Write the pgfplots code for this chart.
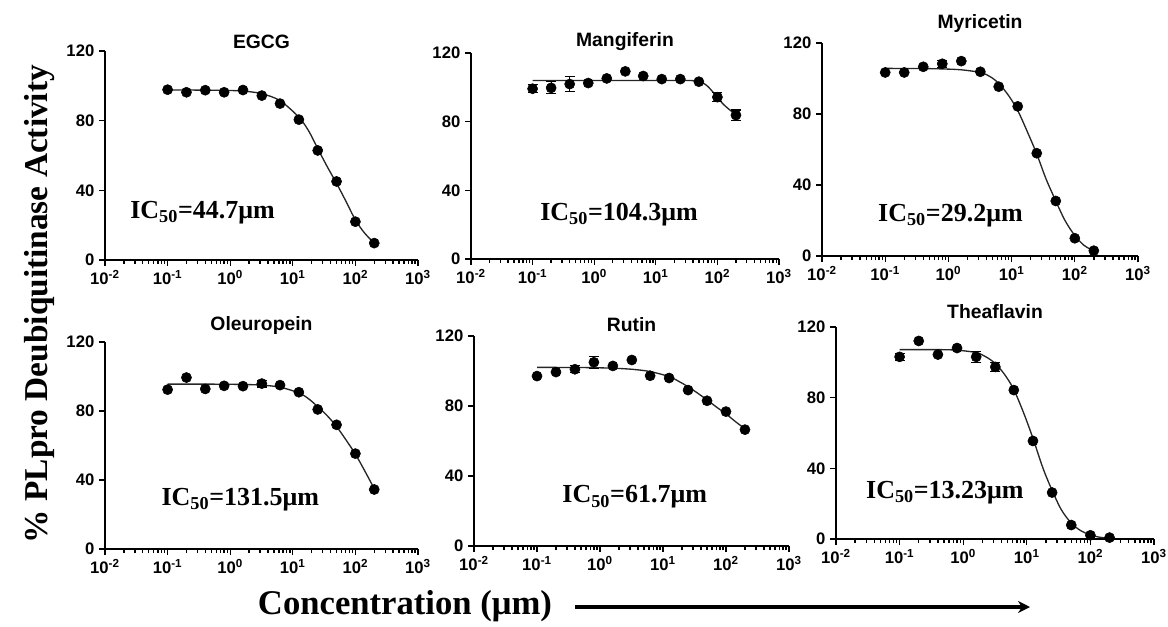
\documentclass[border=0pt]{standalone}
\usepackage{fontspec}
\setmainfont{Liberation Serif}
\newfontfamily\arial{Liberation Sans}
\usepackage{pgfplots}
\usepackage{pgfplotstable}
\pgfplotsset{compat=1.18}
\usetikzlibrary{arrows.meta}

% measured points (x in um, y in %)
\pgfplotstableread{
x y
0.1 97.8
0.2 96.3
0.4 97.5
0.8 96.3
1.6 97.6
3.2 94.4
6.25 89.8
12.5 80.6
25 62.9
50 45.1
100 22.0
200 9.7
}\egcg
\pgfplotstableread{
x y
0.1 97.6
0.2 97.6
0.4 97.5
0.8 97.4
1.6 97.0
3.2 95.5
6.25 91.5
12.5 82
18 74
25 64
35 54
50 44
70 34
100 23
140 15.5
200 9.7
}\egcgfit

\pgfplotstableread{
x y
0.8 102.5
1.6 105.2
3.2 109.3
6.25 106.6
12.5 104.8
25 104.8
50 103.3
}\mang
\pgfplotstableread{
x y e
0.1 99.2 2.4
0.2 99.7 3.5
0.4 101.9 4.3
100 94.3 2.5
200 83.8 3
}\mangerr
\pgfplotstableread{
x y
0.1 104
1 104
10 104
30 104
40 103.9
50 103.5
60 102.3
70 100.5
85 97.2
100 94
120 90.8
140 88.5
170 86
200 84
}\mangfit

\pgfplotstableread{
x y
0.1 103.4
0.2 103.4
0.4 106.6
1.6 109.8
3.2 103.8
6.25 95.4
12.5 84.3
25 57.9
50 31.0
100 10.0
200 3.0
}\myri
\pgfplotstableread{
x y e
0.8 108.3 2
}\myrierr
\pgfplotstableread{
x y
0.1 105.7
0.4 105.6
0.8 105.4
1.6 104.9
3.2 103.4
4.5 101.2
6.25 97.3
9 90.3
12.5 82
18 69.5
25 57.5
35 43.5
50 31
70 20
100 11.5
140 6
200 2.8
}\myrifit

\pgfplotstableread{
x y
0.1 92.4
0.2 99.4
0.4 92.8
0.8 94.6
1.6 94.4
6.25 95.0
12.5 90.9
25 80.9
50 72.0
100 55.3
200 34.5
}\oleu
\pgfplotstableread{
x y e
3.2 95.9 2
}\oleuerr
\pgfplotstableread{
x y
0.1 95.6
0.4 95.6
0.8 95.5
1.6 95.4
3.2 95
6.25 93.8
12.5 90.5
18 87
25 82.5
35 77.5
50 71
70 63.5
100 55
140 45.5
200 35
}\oleufit

\pgfplotstableread{
x y
0.1 97.1
0.2 99.4
1.6 102.9
3.2 106.3
6.25 97.3
12.5 96.0
25 89.1
50 83.0
100 76.8
200 66.5
}\rutin
\pgfplotstableread{
x y e
0.4 101.0 2
0.8 105.0 3.5
}\rutinerr
\pgfplotstableread{
x y
0.1 102.1
0.4 102
0.8 101.9
1.6 101.6
3.2 101
6.25 99.7
12.5 96.8
18 94
25 91
35 87.5
50 83.5
70 79.5
100 75.5
140 71.2
200 67
}\rutinfit

\pgfplotstableread{
x y
0.2 112.1
0.4 104.4
0.8 108.1
6.25 84.3
12.5 55.5
25 26.3
50 7.9
100 2.1
200 0.8
}\thea
\pgfplotstableread{
x y e
0.1 103.1 2
1.6 103.1 3
3.2 97.4 2.5
}\theaerr
\pgfplotstableread{
x y
0.1 107.2
0.4 107.2
0.8 106.9
1.6 105.5
2.3 103
3.2 99.3
4.5 93
6.25 84.6
9 71
12.5 57
18 40
25 27.5
35 16.5
50 9
70 4.8
100 2.3
140 1
200 0.4
}\theafit

\pgfplotsset{
  ivpanel/.style={
    scale only axis, clip=false,
    xmin=0.01, xmax=1000, ymin=0, ymax=120,
    axis lines*=left,
    axis line style={line width=1.5pt, black},
    tick align=outside,
    major tick length=4.5pt, minor tick length=3pt,
    tick style={line width=1pt, black},
    xtick={0.01,0.1,1,10,100,1000},
    xticklabels={10\textsuperscript{-2},10\textsuperscript{-1},10\textsuperscript{0},10\textsuperscript{1},10\textsuperscript{2},10\textsuperscript{3}},
    ytick={0,40,80,120}, yticklabels={0,40,80,120},
    yminorticks=false,
    tick label style={font=\arial\bfseries\fontsize{12.5}{13}\selectfont},
    title style={font=\arial\bfseries\fontsize{14.5}{15}\selectfont, at={(0.5,1)}, anchor=base, inner sep=0pt},
  },
  ivpts/.style={only marks, mark=*, mark size=3.8pt, black},
  ivfit/.style={smooth, no marks, line width=1pt, black!85},
}
\tikzset{ivic/.style={anchor=west, font=\bfseries\fontsize{19.5}{20}\selectfont, inner sep=0pt}}

\begin{document}
\begin{tikzpicture}
\path[use as bounding box] (0,0) rectangle (876pt,-469.5pt);

\begin{semilogxaxis}[ivpanel, at={(78.75pt,-195pt)}, width=234.75pt, height=156.75pt,
  title={EGCG}, title style={yshift=-3.75pt}]
\addplot[ivfit] table {\egcgfit};
\addplot[ivpts] table {\egcg};
\node[ivic] at (rel axis cs:0.08,0.225) {IC\textsubscript{50}=44.7μm};
\end{semilogxaxis}

\begin{semilogxaxis}[ivpanel, at={(353.25pt,-194.25pt)}, width=231pt, height=154.5pt,
  title={Mangiferin}, title style={yshift=-0.75pt}]
\addplot[ivfit] table {\mangfit};
\addplot[ivpts] table {\mang};
\addplot[ivpts, error bars/.cd, y dir=both, y explicit, error bar style={line width=0.9pt, black}, error mark options={rotate=90, mark size=3.8pt, line width=0.9pt, black}] table[y error=e] {\mangerr};
\node[ivic] at (rel axis cs:0.224,0.214) {IC\textsubscript{50}=104.3μm};
\end{semilogxaxis}

\begin{semilogxaxis}[ivpanel, at={(616.5pt,-192pt)}, width=237pt, height=159.75pt,
  title={Myricetin}, title style={yshift=5.25pt}]
\addplot[ivfit] table {\myrifit};
\addplot[ivpts] table {\myri};
\addplot[ivpts, error bars/.cd, y dir=both, y explicit, error bar style={line width=0.9pt, black}, error mark options={rotate=90, mark size=3.8pt, line width=0.9pt, black}] table[y error=e] {\myrierr};
\node[ivic] at (rel axis cs:0.177,0.19) {IC\textsubscript{50}=29.2μm};
\end{semilogxaxis}

\begin{semilogxaxis}[ivpanel, at={(78.75pt,-411.75pt)}, width=234.75pt, height=155.25pt,
  title={Oleuropein}, title style={yshift=3pt}]
\addplot[ivfit] table {\oleufit};
\addplot[ivpts] table {\oleu};
\addplot[ivpts, error bars/.cd, y dir=both, y explicit, error bar style={line width=0.9pt, black}, error mark options={rotate=90, mark size=3.8pt, line width=0.9pt, black}] table[y error=e] {\oleuerr};
\node[ivic] at (rel axis cs:0.18,0.24) {IC\textsubscript{50}=131.5μm};
\end{semilogxaxis}

\begin{semilogxaxis}[ivpanel, at={(355.5pt,-409.5pt)}, width=236.25pt, height=157.5pt,
  title={Rutin}, title style={yshift=-2.25pt}]
\addplot[ivfit] table {\rutinfit};
\addplot[ivpts] table {\rutin};
\addplot[ivpts, error bars/.cd, y dir=both, y explicit, error bar style={line width=0.9pt, black}, error mark options={rotate=90, mark size=3.8pt, line width=0.9pt, black}] table[y error=e] {\rutinerr};
\node[ivic] at (rel axis cs:0.28,0.233) {IC\textsubscript{50}=61.7μm};
\end{semilogxaxis}

\begin{semilogxaxis}[ivpanel, at={(627pt,-404.25pt)}, width=238.5pt, height=159pt,
  title={Theaflavin}, title style={yshift=0.75pt}]
\addplot[ivfit] table {\theafit};
\addplot[ivpts] table {\thea};
\addplot[ivpts, error bars/.cd, y dir=both, y explicit, error bar style={line width=0.9pt, black}, error mark options={rotate=90, mark size=3.8pt, line width=0.9pt, black}] table[y error=e] {\theaerr};
\node[ivic] at (rel axis cs:0.094,0.22) {IC\textsubscript{50}=13.23μm};
\end{semilogxaxis}

\node[rotate=90, font=\bfseries\fontsize{25}{27}\selectfont] at (30pt,-228pt) {\% PLpro Deubiquitinase Activity};
\node[font=\bfseries\fontsize{26}{28}\selectfont] at (303.75pt,-454.5pt) {Concentration (μm)};
\draw[line width=3pt, -{Stealth[length=9pt, width=9pt]}] (431.25pt,-455.25pt) -- (772.5pt,-455.25pt);
\end{tikzpicture}
\end{document}
